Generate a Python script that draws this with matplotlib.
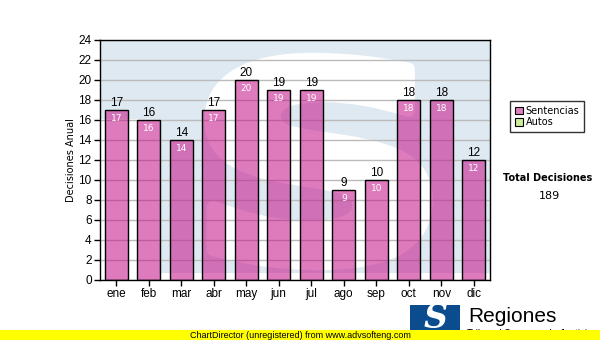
import matplotlib
matplotlib.use("Agg")
import matplotlib.pyplot as plt
from matplotlib.patches import Rectangle, Patch, PathPatch
from matplotlib.textpath import TextPath
from matplotlib.font_manager import FontProperties
from matplotlib.transforms import Affine2D

# data
meses = ["ene", "feb", "mar", "abr", "may", "jun", "jul", "ago", "sep", "oct", "nov", "dic"]
sentencias = [17, 16, 14, 17, 20, 19, 19, 9, 10, 18, 18, 12]
total = 189

W, H = 600, 340
fig = plt.figure(figsize=(6, 3.4), dpi=100)
plt.rcParams["font.family"] = ["Liberation Sans", "DejaVu Sans"]

def fx(px):
    return px / W

def fy(py):
    return 1 - py / H

ax = fig.add_axes([fx(100), fy(280), fx(490) - fx(100), fy(40) - fy(280)])
ax.set_xlim(-0.5, 11.5)
ax.set_ylim(0, 24)
ax.set_facecolor("white")

# watermark background: blue box with white S
blue = "#dfe9f2"
ax.add_patch(Rectangle((-0.5, 16.1), 12, 8, color=blue, lw=0, zorder=0.1))
ax.add_patch(Rectangle((1.3, 0.7), 10.2, 15.5, color=blue, lw=0, zorder=0.1))
tp = TextPath((0, 0), "S", size=1, prop=FontProperties(family="DejaVu Sans", weight="bold"))
ext = tp.get_extents()
x0, x1, y0, y1 = 2.9, 9.55, 1.6, 22.1
tr = Affine2D().translate(-ext.x0, -ext.y0).scale((x1 - x0) / ext.width, (y1 - y0) / ext.height).translate(x0, y0)
ax.add_patch(PathPatch(tr.transform_path(tp), facecolor="white", edgecolor="white", lw=9,
                       joinstyle="round", zorder=0.2, clip_on=True))

ax.yaxis.grid(True, color="#bbbbbb", lw=1, zorder=0.5)
ax.set_axisbelow(True)

x = range(len(meses))
ax.bar(x, sentencias, width=0.72, color="#c40f88", alpha=0.55, zorder=2)
ax.bar(x, sentencias, width=0.72, facecolor="none", edgecolor="black", lw=1, zorder=3)

for i, v in zip(x, sentencias):
    ax.text(i, v + 0.15, str(v), ha="center", va="bottom", fontsize=8.5, color="black", zorder=4)
    ax.text(i, v - 0.4, str(v), ha="center", va="top", fontsize=6.5, color="white",
            family="DejaVu Sans", zorder=4)

ax.set_yticks(range(0, 25, 2))
ax.set_xticks(list(x))
ax.set_xticklabels(meses)
ax.tick_params(axis="both", labelsize=8.5, length=4, width=1, color="black", pad=2)
for s in ax.spines.values():
    s.set_color("black")
    s.set_linewidth(1)
ax.set_ylabel("Decisiones Anual", fontsize=7, family="DejaVu Sans", labelpad=2)

# legend
handles = [Patch(facecolor="#dd80c0", edgecolor="black", lw=0.8, label="Sentencias"),
           Patch(facecolor="#ccee99", edgecolor="black", lw=0.8, label="Autos")]
leg = fig.legend(handles=handles, loc="upper left", bbox_to_anchor=(fx(510), fy(101)),
                 prop={"family": "DejaVu Sans", "size": 7}, frameon=True,
                 fancybox=False, edgecolor="black", handlelength=0.8, handleheight=0.8,
                 handletextpad=0.3, borderpad=0.5, labelspacing=0.15, borderaxespad=0)
leg.get_frame().set_linewidth(1)

fig.text(fx(548), fy(178), "Total Decisiones", ha="center", va="center", fontsize=7,
         weight="bold", family="DejaVu Sans")
fig.text(fx(549), fy(196), str(total), ha="center", va="center", fontsize=8, family="DejaVu Sans")

# logo
fig.add_artist(Rectangle((fx(410), fy(332)), fx(50), fy(305) - fy(332), transform=fig.transFigure,
                         color="#0b4c8f", lw=0))
fig.text(fx(436), fy(319), "S", ha="center", va="center", fontsize=24, weight="bold",
         color="white", family="DejaVu Serif", style="italic")
fig.text(fx(468), fy(316), "Regiones", ha="left", va="center", fontsize=15, color="black")
fig.text(fx(467), fy(334), "Tribunal Supremo de Justicia", ha="left", va="center", fontsize=7,
         color="black")

# yellow band
fig.add_artist(Rectangle((0, 0), 1, 10 / H, transform=fig.transFigure, color="#ffff00", lw=0,
                         zorder=5))
fig.text(0.5, fy(335), "ChartDirector (unregistered) from www.advsofteng.com", ha="center",
         va="center", fontsize=6.5, color="black", zorder=6)

fig.savefig("out.png", dpi=100)
